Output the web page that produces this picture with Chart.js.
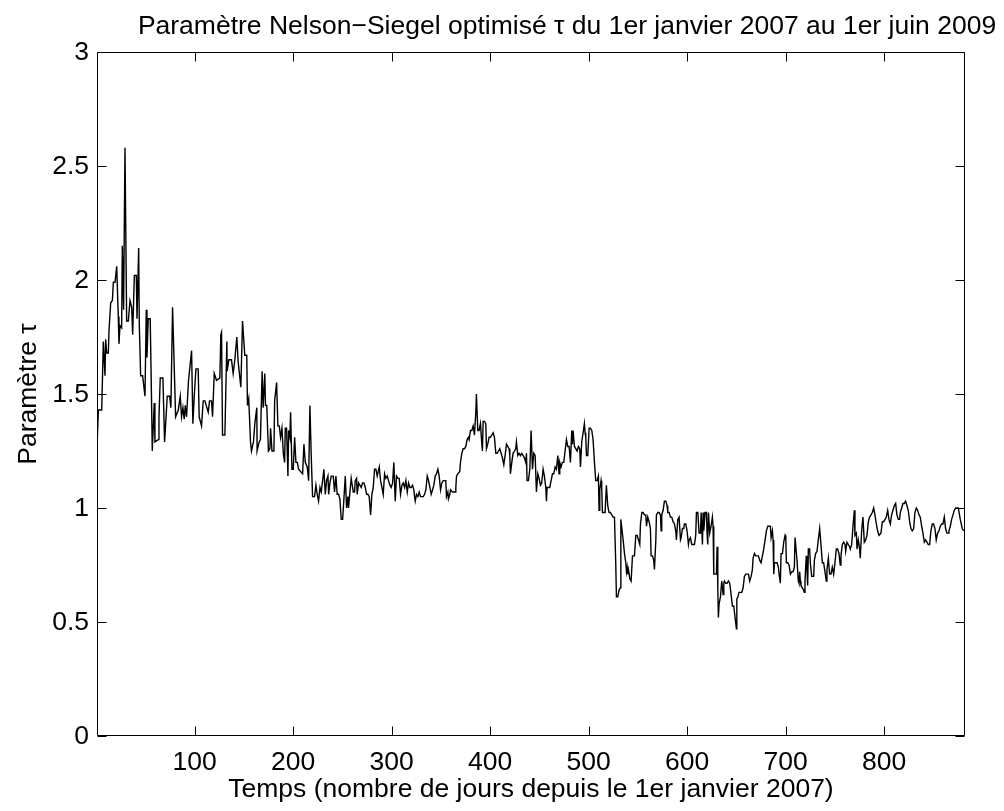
<!DOCTYPE html>
<html><head><meta charset="utf-8">
<script src="https://cdn.jsdelivr.net/npm/chart.js@4.4.1/dist/chart.umd.min.js"></script>
<style>html,body{margin:0;padding:0;background:#fff;overflow:hidden}#wrap{width:1004px;height:811px}</style>
</head><body><div id="wrap"><canvas id="c" width="1004" height="811"></canvas></div>
<script>
// ---- data (day index, optimised tau) ----
const days1 = [1,2.4,5.8,7.4,9.1,9.8,10.8,12.5,13.2,14.9,16.6,17.6,19.3,21,22.6,23.3,24.3,26,26.7,28,29.4,31.1,32.8,34.5,36.2,37.2,38.9,40.9,41.6,43.3,43.9,45.3,47.3,49.7,51,51.7,53,55,56.4,57.1,59.1,59.8,63.2,63.9,65.2,67.9,69.6,72.3,74.7,76,77.7,80.8,83.5,85.5,86.8,88.2,89.5,90.6,91.9,93.9,97,98.3,99.7,101.4,103.7,104.7,107.1,108.8,110.5,113.9,115.2,117.2,118.3,120,122.3,125.7,126.7,127.4,128.4,130.8,132.8,133.1,134.8,137.5,139.2,140.9,142.9,144.3,147,148.7,151,153,153.7,155,156.8,157.8,159.8,161.2,163.2,163.5,165.6,166.9,168.6,169.6,171.3,172,173.3,175];
const tau1 = [1.27,1.43,1.43,1.73,1.58,1.74,1.68,1.68,1.78,1.90,1.91,1.99,1.99,2.06,1.84,1.72,1.80,1.79,2.15,1.87,2.58,1.82,1.82,1.91,1.88,1.76,2.02,2.02,1.83,2.14,1.81,1.58,1.58,1.49,1.87,1.66,1.83,1.83,1.46,1.25,1.46,1.29,1.30,1.40,1.57,1.57,1.29,1.49,1.49,1.44,1.88,1.40,1.43,1.49,1.40,1.44,1.39,1.45,1.40,1.56,1.69,1.37,1.49,1.61,1.61,1.40,1.36,1.47,1.47,1.42,1.47,1.47,1.40,1.59,1.56,1.57,1.76,1.77,1.32,1.32,1.73,1.60,1.65,1.65,1.59,1.65,1.75,1.64,1.53,1.82,1.67,1.67,1.45,1.48,1.29,1.25,1.29,1.37,1.44,1.25,1.29,1.30,1.60,1.44,1.59,1.45,1.45,1.25];

const days2 = [176.5,177.2,178.6,180.6,181.3,183.3,184.6,186,187.3,188.7,190.1,191.4,192.1,193.4,194.8,195.5,196.8,197.5,198.9,200.2,201.6,202.9,204.3,205.6,207.6,209.7,211,212.4,214.4,215.8,217.1,218.5,219.8,221.8,223.2,224.5,225.9,227.3,228.6,230,231.3,232.7,234,235.4,236.1,237.4,238.8,240.8,242.1,243.5,244.8,246.2,247.5,248.9,250.3,251.6,253,254.3,255.7,256.3,257.7,259,261.1,262.4,263.1,264.5,265.1,266.5,267.8,269.2,270.5,271.9,273.3,274.6,276,277.3,278.7,280,281.4,282.7,284.1,285.4,287.5,288.8,290.2,291.5,292.9,294.2,295.6,296.9,298.3,299.6,301,302.3,303.7,305,306.4,307.7,309.1,310.5,311.8,313.2,314.5,315.9,317.2,318.6,319.9,321.3,322.6,323.3,324,325.3,326.7,328,329.4,330.7,332.1,333.5,334.8,336.2,337.5,338.9,340.2,341.6,342.9,344.3,345.6,347,348.3,349.7,351,352.4,353.7];
const tau2 = [1.26,1.35,1.25,1.25,1.47,1.55,1.36,1.36,1.31,1.35,1.24,1.20,1.35,1.35,1.14,1.34,1.31,1.42,1.17,1.17,1.31,1.20,1.20,1.17,1.16,1.15,1.28,1.20,1.18,1.12,1.45,1.22,1.05,1.05,1.10,1.06,1.03,1.09,1.07,1.12,1.17,1.06,1.12,1.14,1.06,1.11,1.14,1.14,1.07,1.14,1.06,1.06,1.04,0.95,0.95,1.04,1.14,1.00,1.05,1.00,1.07,1.13,1.07,1.07,1.12,1.13,1.06,1.11,1.10,1.09,1.11,1.11,1.09,1.06,1.06,1.05,0.97,1.06,1.09,1.17,1.17,1.14,1.18,1.12,1.09,1.06,1.15,1.13,1.14,1.12,1.10,1.09,1.11,1.20,1.03,1.14,1.13,1.13,1.06,1.10,1.11,1.09,1.12,1.07,1.11,1.09,1.09,1.10,1.08,1.05,1.03,1.06,1.05,1.07,1.05,1.05,1.05,1.06,1.08,1.14,1.12,1.09,1.06,1.08,1.10,1.14,1.15,1.17,1.14,1.08,1.11,1.12,1.12];

const days3 = [355,355.7,357.1,357.7,359.1,359.8,361.8,363.1,364.5,365.2,365.9,367.2,369.2,369.9,371.3,372.6,374,375.3,376.7,378,378.7,380.1,381.4,382.8,384.1,385.5,386.1,387.5,388.8,390.2,391.6,392.2,392.9,394.3,395.6,396.3,397.6,399,400.3,401.7,403.1,404.4,405.8,407.1,408.5,409.8,411.2,412.5,413.9,415.2,416.6,417.9,419.3,420,420.6,422,423.3,424.7,426,426.7,428.1,429.4,430.8,432.1,433.5,434.8,436.2,436.9,437.5,438.9,440.3,441.6,443,444.3,445.7,447,448.4,449.7,451.1,452.4,453.8,455.1,456.5,457.2,457.8,459.2,460.5,461.9,463.3,464.6,466,467.3,468.7,470,470.7,472,473.4,474.8,476.1,477.5,478.8,480.2,481.5,482.9,483.5,484.2,485.6,486.9,488.3,489.6,491,491.7,493,494.4,495.7,496.4,497.1,497.8,499.1,500.5,501.8,503.2,504.5,505.9,507.2,508.6,509.9,510.6,511.3,512.6,513.3,514,515.3,516.7,518,519.4,520.7,522.1,523.5,524.8,526.2,527.5,528.2,529.5,530.9];
const tau3 = [1.12,1.05,1.07,1.04,1.06,1.08,1.07,1.07,1.07,1.09,1.14,1.15,1.16,1.20,1.24,1.26,1.26,1.27,1.30,1.31,1.30,1.34,1.34,1.36,1.32,1.42,1.50,1.34,1.34,1.37,1.28,1.25,1.38,1.38,1.37,1.26,1.28,1.31,1.31,1.32,1.33,1.31,1.24,1.24,1.25,1.26,1.24,1.22,1.19,1.23,1.28,1.27,1.26,1.23,1.15,1.20,1.24,1.25,1.26,1.29,1.23,1.24,1.23,1.24,1.23,1.22,1.20,1.24,1.12,1.12,1.17,1.34,1.17,1.24,1.23,1.07,1.15,1.13,1.10,1.11,1.17,1.14,1.09,1.03,1.09,1.09,1.09,1.12,1.15,1.15,1.18,1.17,1.23,1.15,1.20,1.18,1.20,1.20,1.25,1.30,1.27,1.27,1.20,1.34,1.28,1.34,1.27,1.26,1.25,1.27,1.26,1.18,1.29,1.33,1.37,1.33,1.31,1.23,1.23,1.35,1.35,1.34,1.30,1.20,1.12,1.12,1.14,0.99,1.08,1.12,1.09,0.98,0.98,0.98,1.10,1.01,0.98,0.98,0.97,0.96,0.96,0.76,0.61,0.61,0.64];

const days4 = [532.3,532.7,533.7,535,536.4,537.7,538.4,539.1,539.7,540.4,541.8,543.1,543.8,544.5,545.8,546.5,547.9,549.2,550.6,551.9,552.6,554,555.3,556.7,558,558.7,560,561.4,562.7,563.4,564.8,566.1,566.8,568.2,568.8,570.2,571.5,572.9,573.6,574.2,575.6,576.9,578.3,579.7,580.3,581.7,583,584.4,585.7,587.1,588.4,589.1,590.5,591.8,592.5,593.2,593.9,595.2,596.6,597.2,598.6,599.9,601.3,602,603.3,604.7,606,607.4,608.7,609.4,610.8,612.1,613.5,614.2,615.5,616.2,616.9,618.2,619.6,620.2,620.9,621.6,622.9,624.3,625.6,626.3,627,628.4,629.7,630.4,631.1,631.7,632.4,633.8,635.1,636.5,637.2,637.8,639.2,640.5,641.9,643.2,644.6,645.9,647.3,648.6,650,650.4,651.4,652.7,654.1,655.4,656.8,658.1,659.5,660.8,662.2,663.5,664.9,666.2,666.9,668.3,669.6,671,672.3,673.7,675,676.4,677.7,679.1,680.4,681.8,683.1,684.5,685.2,686.5,687.2,687.9,688.6,689.9,691.3,692.6,693.3,694.6,695.3,696.7,698,699.4,700.1,700.7,702.1,703.4,704.8,706.1,707.5,708.8,709.5];
const tau4 = [0.65,0.95,0.91,0.86,0.80,0.76,0.72,0.74,0.71,0.73,0.69,0.68,0.68,0.79,0.79,0.79,0.88,0.88,0.86,0.84,0.93,0.98,0.98,0.97,0.97,0.92,0.96,0.94,0.91,0.79,0.79,0.77,0.73,0.86,0.97,0.98,0.98,0.97,0.90,0.97,0.99,1.03,1.03,1.01,0.98,0.98,0.96,0.96,0.94,0.93,0.90,0.86,0.95,0.96,0.96,0.86,0.87,0.91,0.91,0.93,0.93,0.90,0.84,0.86,0.87,0.84,0.84,0.84,0.88,0.98,0.98,0.89,0.89,0.98,0.84,0.98,0.90,0.98,0.98,0.89,0.84,0.98,0.89,0.92,0.96,0.92,0.71,0.71,0.71,0.83,0.65,0.52,0.58,0.61,0.68,0.62,0.67,0.68,0.67,0.67,0.68,0.67,0.62,0.57,0.57,0.52,0.47,0.60,0.61,0.63,0.63,0.63,0.65,0.70,0.71,0.71,0.71,0.68,0.70,0.73,0.78,0.80,0.79,0.79,0.79,0.77,0.76,0.79,0.82,0.86,0.90,0.92,0.92,0.92,0.87,0.90,0.86,0.71,0.76,0.76,0.76,0.74,0.71,0.67,0.80,0.80,0.85,0.88,0.87,0.76,0.76,0.75,0.71,0.72,0.72,0.74,0.87];

const days5 = [710.1,711.5,712.8,713.5,714.2,714.9,715.5,716.9,718.2,718.9,719.6,720.3,720.9,721.6,722.3,723,724.3,725,726.4,727,728.4,729.1,730.4,731.8,733.1,734.5,735.8,737.2,738.5,739.9,741.2,741.9,743.3,744.6,746,747.3,748.7,750,751.4,752.7,754.1,755.4,756.1,757.5,758.8,760.2,760.9,762.2,763.6,764.9,765.6,767,768.3,769.7,770.3,771.7,772.4,773.7,775.1,775.7,777.1,778.4,779.8,781.2,782.5,783.9,785.2,786.6,787.9,789.3,790.6,792,793.3,794.7,796.7,798.1,799.4,800.8,802.1,803.5,804.8,806.2,807.5,808.9,810.2,811.6,812.9,814.3,815.6,816.3,817.7,819,820.4,821.7,823.1,824.4,825.8,827.1,828.5,829.9,831.2,832.6,833.9,835.3,836.6,838,839.3,840.7,842,843.4,844.7,846.1,847.4,848.8,850.1,851.5,852.8,854.2,855.6,856.9,858.3,859.6,861,862.3,863.7,865,865.7,867.1,868.4,869.8,871.1,872.5,875.2,877.2,879.2,880.6];
const tau5 = [0.87,0.77,0.68,0.67,0.72,0.68,0.66,0.65,0.64,0.63,0.68,0.74,0.79,0.73,0.66,0.82,0.82,0.76,0.70,0.70,0.70,0.77,0.80,0.81,0.86,0.91,0.84,0.76,0.76,0.72,0.68,0.73,0.78,0.71,0.71,0.74,0.71,0.76,0.82,0.82,0.80,0.75,0.79,0.84,0.85,0.84,0.81,0.85,0.84,0.83,0.82,0.84,0.92,0.99,0.88,0.89,0.82,0.86,0.82,0.78,0.90,0.96,0.85,0.86,0.88,0.94,0.96,0.97,0.98,1.00,0.97,0.93,0.90,0.88,0.89,0.94,0.94,0.95,0.96,0.99,0.95,0.93,0.97,0.99,1.01,1.02,0.97,0.95,0.95,0.98,1.00,1.02,1.02,1.03,1.01,0.99,0.94,0.91,0.90,0.91,0.98,1.00,0.99,0.97,0.96,0.92,0.89,0.85,0.86,0.85,0.84,0.84,0.90,0.93,0.93,0.91,0.86,0.89,0.90,0.92,0.93,0.93,0.96,0.91,0.89,0.89,0.90,0.92,0.95,0.97,0.99,1.00,1.00,0.95,0.91,0.90];

const xTickValues = [100,200,300,400,500,600,700,800];
const yTickValues = [0,0.5,1,1.5,2,2.5,3];
const yTickLabels = ['0','0.5','1','1.5','2','2.5','3'];
const titleText = 'Paramètre Nelson\u2212Siegel optimisé \u03c4 du 1er janvier 2007 au 1er juin 2009';
const xLabel = 'Temps (nombre de jours depuis le 1er janvier 2007)';
const yLabel = 'Paramètre \u03c4';

// ---- build ----
const days = [].concat(days1, days2, days3, days4, days5);
const tau = [].concat(tau1, tau2, tau3, tau4, tau5);
const n = Math.min(days.length, tau.length);
const points = [];
for (let i = 0; i < n; i++) points.push({x: days[i], y: tau[i]});

const FONT = '"Liberation Sans", Arial, Helvetica, sans-serif';
const FS = 26.5;

const framePlugin = {
  id: 'frame',
  afterDatasetsDraw(chart) {
    const {ctx, chartArea: a, scales: {x, y}} = chart;
    ctx.save();
    ctx.strokeStyle = '#000';
    ctx.lineWidth = 1;
    const L = Math.round(a.left) + 0.5, R = Math.round(a.right) - 0.5;
    const T = Math.round(a.top) + 0.5, B = Math.round(a.bottom) - 0.5;
    const tl = 9;
    ctx.beginPath();
    ctx.rect(L, T, R - L, B - T);
    x.ticks.forEach(t => {
      const px = Math.round(x.getPixelForValue(t.value)) + 0.5;
      ctx.moveTo(px, B); ctx.lineTo(px, B - tl);
      ctx.moveTo(px, T); ctx.lineTo(px, T + tl);
    });
    y.ticks.forEach(t => {
      const py = Math.round(y.getPixelForValue(t.value)) + 0.5;
      ctx.moveTo(L, py); ctx.lineTo(L + tl, py);
      ctx.moveTo(R, py); ctx.lineTo(R - tl, py);
    });
    ctx.stroke();
    ctx.fillStyle = '#000';
    ctx.font = FS + 'px ' + FONT;
    ctx.textAlign = 'center';
    ctx.textBaseline = 'alphabetic';
    ctx.fillText(titleText, 567, 34);
    ctx.restore();
  }
};

new Chart(document.getElementById('c'), {
  type: 'line',
  data: {
    datasets: [{
      data: points,
      borderColor: '#000',
      borderWidth: 1.4,
      pointRadius: 0,
      tension: 0,
      fill: false
    }]
  },
  options: {
    responsive: false,
    animation: false,
    devicePixelRatio: 1,
    layout: {padding: {left: 0, right: 39, top: 52, bottom: 0}},
    plugins: {legend: {display: false}, title: {display: false}, tooltip: {enabled: false}},
    scales: {
      x: {
        type: 'linear', position: 'bottom', min: 1, max: 882,
        afterBuildTicks: s => { s.ticks = xTickValues.map(v => ({value: v})); },
        afterFit: s => { s.height = 75; },
        grid: {display: false, drawTicks: false},
        border: {display: false},
        ticks: {color: '#000', font: {family: FONT, size: FS}, padding: 11, maxRotation: 0, autoSkip: false,
                callback: v => String(v)},
        title: {display: true, text: xLabel, color: '#000', font: {family: FONT, size: FS}, padding: {top: 0, bottom: 5}}
      },
      y: {
        type: 'linear', position: 'left', min: 0, max: 3,
        afterBuildTicks: s => { s.ticks = yTickValues.map(v => ({value: v})); },
        afterFit: s => { s.width = 97; },
        grid: {display: false, drawTicks: false},
        border: {display: false},
        ticks: {color: '#000', font: {family: FONT, size: FS}, padding: 8, autoSkip: false, labelOffset: 1,
                callback: (v, i) => yTickLabels[i]},
        title: {display: true, text: yLabel, color: '#000', font: {family: FONT, size: FS}, padding: {top: 13, bottom: 0}}
      }
    }
  },
  plugins: [framePlugin]
});
</script>
</body></html>
